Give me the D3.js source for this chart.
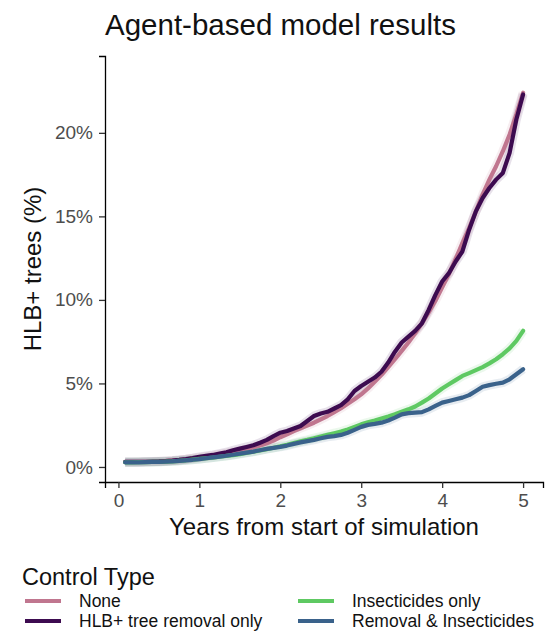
<!DOCTYPE html>
<html>
<head>
<meta charset="utf-8">
<script src="https://cdn.jsdelivr.net/npm/d3@7"></script>
<style>
  body { margin: 0; background: #fff; }
  text { font-family: "Liberation Sans", Arial, sans-serif; }
</style>
</head>
<body>
<div id="vis"></div>
<script>
// frame is the whole window
const FRAME_WIDTH = 559;
const FRAME_HEIGHT = 639;
// panel edges (the axis lines sit on left + bottom)
const PANEL = {left: 105, right: 543, top: 56, bottom: 482};

// months 1..60 of the simulation, in years
const MONTHS = d3.range(1, 61);
const YEARS = MONTHS.map(m => m / 12);

const SERIES_NAMES = ["None", "HLB+ tree removal only", "Insecticides only", "Removal & Insecticides"];
const SERIES_COLORS = ["#c0768f", "#3d0b50", "#5ec962", "#3a628b"];

// % of HLB+ trees
const NONE_VALUES = [0.30, 0.30, 0.30, 0.31, 0.32, 0.34, 0.36, 0.39, 0.42, 0.46, 0.51, 0.56,
                     0.62, 0.68, 0.75, 0.82, 0.90, 0.98, 1.07, 1.17, 1.28, 1.42, 1.58, 1.78,
                     1.95, 2.15, 2.32, 2.48, 2.65, 2.85, 3.05, 3.28, 3.52, 3.78, 4.05, 4.35,
                     4.70, 5.10, 5.52, 5.98, 6.45, 6.95, 7.45, 8.00, 8.60, 9.25, 9.95, 10.75,
                     11.55, 12.45, 13.40, 14.30, 15.30, 16.30, 17.20, 18.00, 18.90, 19.90, 21.10, 22.40];
const REMOVAL_VALUES = [0.30, 0.30, 0.30, 0.31, 0.32, 0.33, 0.35, 0.38, 0.42, 0.47, 0.53, 0.60,
                        0.66, 0.72, 0.80, 0.88, 1.00, 1.10, 1.20, 1.30, 1.45, 1.62, 1.85, 2.05,
                        2.15, 2.30, 2.45, 2.75, 3.05, 3.20, 3.30, 3.50, 3.70, 4.05, 4.55, 4.85,
                        5.10, 5.35, 5.70, 6.25, 6.90, 7.45, 7.80, 8.15, 8.60, 9.40, 10.30, 11.10,
                        11.60, 12.30, 12.90, 14.20, 15.30, 16.10, 16.70, 17.20, 17.60, 18.80, 20.80, 22.30];
const INSECT_VALUES = [0.28, 0.28, 0.29, 0.29, 0.30, 0.31, 0.32, 0.34, 0.37, 0.40, 0.44, 0.48,
                       0.52, 0.56, 0.61, 0.66, 0.71, 0.77, 0.84, 0.91, 0.99, 1.07, 1.15, 1.24,
                       1.33, 1.43, 1.53, 1.62, 1.72, 1.82, 1.92, 2.02, 2.12, 2.25, 2.40, 2.55,
                       2.67, 2.78, 2.90, 3.02, 3.15, 3.30, 3.45, 3.62, 3.85, 4.10, 4.40, 4.70,
                       4.95, 5.20, 5.45, 5.62, 5.80, 5.98, 6.20, 6.45, 6.75, 7.10, 7.55, 8.15];
const BOTH_VALUES = [0.28, 0.28, 0.28, 0.29, 0.30, 0.31, 0.32, 0.34, 0.37, 0.40, 0.43, 0.47,
                     0.52, 0.57, 0.62, 0.67, 0.73, 0.80, 0.86, 0.92, 1.00, 1.08, 1.14, 1.20,
                     1.28, 1.38, 1.47, 1.55, 1.62, 1.72, 1.80, 1.85, 1.92, 2.05, 2.22, 2.40,
                     2.52, 2.58, 2.65, 2.78, 2.95, 3.15, 3.22, 3.25, 3.28, 3.45, 3.65, 3.85,
                     3.95, 4.05, 4.15, 4.30, 4.55, 4.80, 4.90, 4.98, 5.05, 5.25, 5.55, 5.85];

const X_TICKS = [0, 1, 2, 3, 4, 5];
const Y_TICKS = [0, 5, 10, 15, 20];

const ALL_VALUES = [NONE_VALUES, REMOVAL_VALUES, INSECT_VALUES, BOTH_VALUES];

const FRAME = d3.select("#vis")
                .append("svg")
                .attr("width", FRAME_WIDTH)
                .attr("height", FRAME_HEIGHT);

// domains carry ggplot's 5% padding
const X_SCALE = d3.scaleLinear()
                  .domain([-0.166, 5.246])
                  .range([PANEL.left, PANEL.right]);
const Y_SCALE = d3.scaleLinear()
                  .domain([-0.9, 24.6])
                  .range([PANEL.bottom, PANEL.top]);

const line = d3.line()
               .x((d, i) => X_SCALE(YEARS[i]))
               .y(d => Y_SCALE(d));

// faint halo under each line stands in for the ribbon
ALL_VALUES.forEach((vals, i) => {
  FRAME.append("path")
      .datum(vals)
      .attr("d", line)
      .attr("fill", "none")
      .attr("stroke", SERIES_COLORS[i])
      .attr("stroke-opacity", 0.12)
      .attr("stroke-width", 9)
      .attr("stroke-linejoin", "round");
});
ALL_VALUES.forEach((vals, i) => {
  FRAME.append("path")
      .datum(vals)
      .attr("d", line)
      .attr("fill", "none")
      .attr("stroke", SERIES_COLORS[i])
      .attr("stroke-width", 4.2)
      .attr("stroke-linejoin", "round")
      .attr("stroke-linecap", "round");
});

// axes
const xAxis = FRAME.append("g")
    .attr("transform", "translate(0," + PANEL.bottom + ")")
    .call(d3.axisBottom(X_SCALE).tickValues(X_TICKS).tickSizeOuter(0).tickSize(6).tickPadding(6)
            .tickFormat(d3.format("d")));
const yAxis = FRAME.append("g")
    .attr("transform", "translate(" + PANEL.left + ",0)")
    .call(d3.axisLeft(Y_SCALE).tickValues(Y_TICKS).tickSizeOuter(0).tickSize(6).tickPadding(6)
            .tickFormat(d => d + "%"));

[xAxis, yAxis].forEach(g => {
  g.select(".domain").attr("stroke", "#000").attr("stroke-width", 1.3);
  g.selectAll(".tick line").attr("stroke", "#333").attr("stroke-width", 1.3);
  g.selectAll(".tick text")
      .attr("font-size", "19px")
      .attr("fill", "#4d4d4d")
      .style("font-family", "'Liberation Sans', Arial, sans-serif");
});

// titles
FRAME.append("text")
    .attr("x", PANEL.left)
    .attr("y", 35)
    .attr("font-size", "29.5px")
    .attr("fill", "#111")
    .text("Agent-based model results");

FRAME.append("text")
    .attr("x", (PANEL.left + PANEL.right) / 2)
    .attr("y", 535)
    .attr("text-anchor", "middle")
    .attr("font-size", "24px")
    .attr("fill", "#111")
    .text("Years from start of simulation");

FRAME.append("text")
    .attr("transform", "translate(41," + ((PANEL.top + PANEL.bottom) / 2) + ") rotate(-90)")
    .attr("text-anchor", "middle")
    .attr("font-size", "24px")
    .attr("fill", "#111")
    .text("HLB+ trees (%)");

// legend, two columns of two
FRAME.append("text")
    .attr("x", 22)
    .attr("y", 585)
    .attr("font-size", "23.5px")
    .attr("fill", "#111")
    .text("Control Type");

const LEG_COL_X = [25, 298];
const LEG_ROW_Y = [601, 621];
SERIES_NAMES.forEach((name, i) => {
  const col = Math.floor(i / 2), row = i % 2;
  const g = FRAME.append("g")
      .attr("transform", "translate(" + LEG_COL_X[col] + "," + LEG_ROW_Y[row] + ")");
  g.append("line")
      .attr("x1", 0).attr("x2", 36)
      .attr("stroke", SERIES_COLORS[i])
      .attr("stroke-width", 4);
  g.append("text")
      .attr("x", 54)
      .attr("y", 6)
      .attr("font-size", "17.5px")
      .attr("fill", "#111")
      .text(name);
});
</script>
</body>
</html>
